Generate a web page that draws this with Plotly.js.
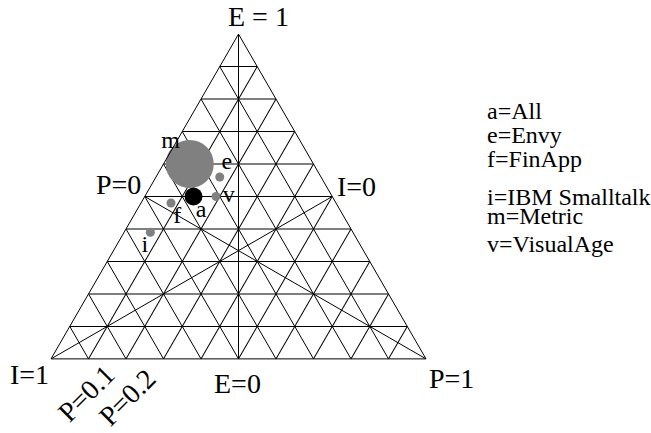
<!DOCTYPE html>
<html>
<head>
<meta charset="utf-8">
<script src="https://cdn.plot.ly/plotly-3.0.1.min.js"></script>
<style>
  html, body { margin: 0; padding: 0; background: #fff; }
  #chart { width: 651px; height: 433px; }
</style>
</head>
<body>
<div id="chart"></div>
<script>
// Projects and their E / I / P shares (E + I + P = 1)
const codes    = ['m', 'a', 'e', 'v', 'f', 'i'];
const projects = ['Metric', 'All', 'Envy', 'VisualAge', 'FinApp', 'IBM Smalltalk'];
const shareE   = [0.60, 0.50, 0.56, 0.50, 0.48, 0.39];
const shareI   = [0.33, 0.37, 0.27, 0.31, 0.44, 0.54];
const shareP   = [0.07, 0.13, 0.17, 0.19, 0.08, 0.07];

// Legend entries, listed alphabetically by code
const legendCodes = ['a', 'e', 'f', 'i', 'm', 'v'];

// Corner / edge captions
const cornerLabels = ['E = 1', 'I=1', 'P=1'];
const edgeLabels   = ['P=0', 'I=0', 'E=0'];
const tickLabels   = ['P=0.1', 'P=0.2'];

// Medians: each vertex joined to the midpoint of the opposite side
const vertices  = [[1, 0, 0], [0, 1, 0], [0, 0, 1]];
const midpoints = [[0, 0.5, 0.5], [0.5, 0, 0.5], [0.5, 0.5, 0]];

// ---- styling ----
const serif = '"Liberation Serif", "Times New Roman", Times, serif';
const markerSize  = {m: 48, a: 18, e: 9, v: 9, f: 9, i: 9};
const markerColor = {m: '#808080', a: '#000000', e: '#808080', v: '#808080', f: '#808080', i: '#808080'};
const labelPos    = {m: 'top left', a: 'bottom right', e: 'top right', v: 'middle right', f: 'bottom right', i: 'bottom left'};
const labelGap    = {m: 14, a: 2, e: 1, v: 9, f: 2, i: 2};

const medA = [], medB = [], medC = [];
vertices.forEach((v, k) => {
  const m = midpoints[k];
  medA.push(v[0], m[0], null);
  medB.push(v[1], m[1], null);
  medC.push(v[2], m[2], null);
});

const medians = {
  type: 'scatterternary', mode: 'lines',
  a: medA, b: medB, c: medC,
  line: {color: '#000', width: 1},
  hoverinfo: 'skip', showlegend: false
};

const points = {
  type: 'scatterternary', mode: 'markers',
  a: shareE, b: shareI, c: shareP,
  marker: {
    size: codes.map(c => markerSize[c]),
    color: codes.map(c => markerColor[c]),
    opacity: 1,
    line: {width: 0}
  },
  cliponaxis: false,
  hovertext: projects, hoverinfo: 'text', showlegend: false
};

// code letters beside each point; the transparent markers only set the gap
const pointLabels = {
  type: 'scatterternary', mode: 'markers+text',
  a: shareE, b: shareI, c: shareP,
  text: codes,
  textposition: codes.map(c => labelPos[c]),
  textfont: {family: serif, size: 24, color: '#000'},
  marker: {size: codes.map(c => labelGap[c]), opacity: 0},
  cliponaxis: false,
  hoverinfo: 'skip', showlegend: false
};

const axisStyle = {
  min: 0, dtick: 0.1, tick0: 0,
  showgrid: true, gridcolor: '#000', gridwidth: 1,
  showline: true, linecolor: '#000', linewidth: 1,
  showticklabels: false, ticks: '',
  title: {text: ''}
};

// plot area geometry (px) used to place the captions in paper space
const L = 51, R = 225, T = 34, B = 74, W = 651 - L - R, H = 433 - T - B;
const px = x => (x - L) / W;
const py = y => (433 - B - y) / H;

const ann = (text, x, y, opts) => Object.assign({
  text: text, x: px(x), y: py(y), xref: 'paper', yref: 'paper',
  xanchor: 'center', yanchor: 'middle', showarrow: false,
  font: {family: serif, size: 28, color: '#000'}
}, opts || {});

const annotations = [
  ann(cornerLabels[0], 258.5, 16),
  ann(cornerLabels[1], 29, 374),
  ann(cornerLabels[2], 451.5, 378),
  ann(edgeLabels[0], 118.5, 184.5),
  ann(edgeLabels[1], 356, 186),
  ann(edgeLabels[2], 237.5, 383),
  ann(tickLabels[0], 86, 393.5, {textangle: -45}),
  ann(tickLabels[1], 127, 397.5, {textangle: -45})
];

const legendY = [111, 135, 159, 197, 215.7, 244];
legendCodes.forEach((c, k) => {
  const name = projects[codes.indexOf(c)];
  annotations.push(ann(c + '=' + name, 485, legendY[k], {
    xanchor: 'left', font: {family: serif, size: 24, color: '#000'}
  }));
});

const layout = {
  width: 651, height: 433,
  margin: {l: L, r: R, t: T, b: B, autoexpand: false},
  paper_bgcolor: '#fff',
  font: {family: serif, color: '#000'},
  showlegend: false,
  ternary: {
    sum: 1,
    domain: {x: [0, 1], y: [0, 1]},
    bgcolor: '#fff',
    aaxis: axisStyle, baxis: axisStyle, caxis: axisStyle
  },
  annotations: annotations
};

Plotly.newPlot('chart', [medians, points, pointLabels], layout, {displayModeBar: false, staticPlot: true});
</script>
</body>
</html>
